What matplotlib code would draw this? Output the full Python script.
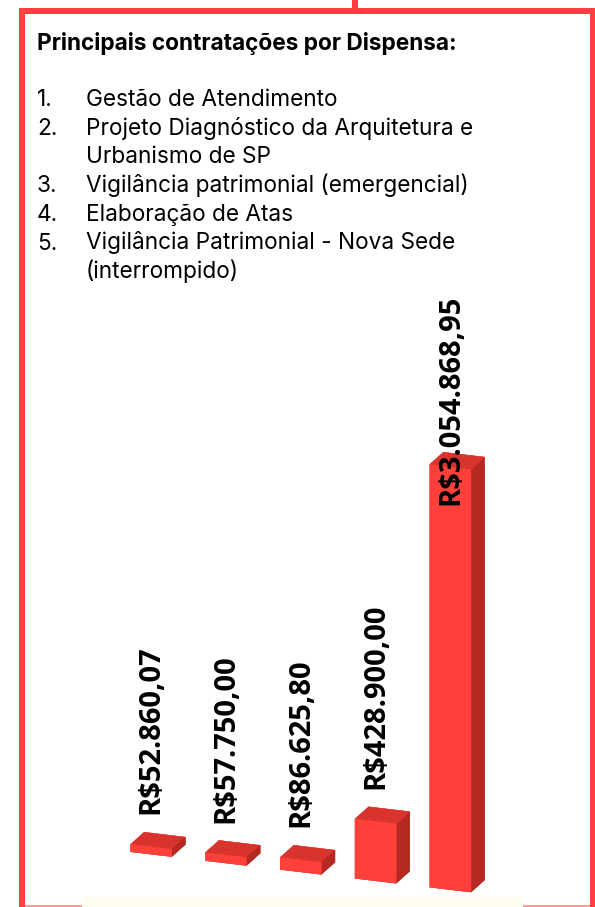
import matplotlib
matplotlib.use("Agg")
import matplotlib.pyplot as plt
from matplotlib.patches import Rectangle
from mpl_toolkits.mplot3d import proj3d

W, H, DPI = 595, 907, 100

title = "Principais contratações por Dispensa:"
items = [
    "Gestão de Atendimento",
    "Projeto Diagnóstico da Arquitetura e\nUrbanismo de SP",
    "Vigilância patrimonial (emergencial)",
    "Elaboração de Atas",
    "Vigilância Patrimonial - Nova Sede\n(interrompido)",
]
values = [52860.07, 57750.00, 86625.80, 428900.00, 3054868.95]

RED = "#FF4040"
FRONT = "#FF403A"
TOP = "#D9332E"
SIDE = "#B62822"


def brl(v):
    s = f"{v:,.2f}".replace(",", "X").replace(".", ",").replace("X", ".")
    return "R$" + s


def fx(x):
    return x / W


def fy(y):
    return 1 - y / H


fig = plt.figure(figsize=(W / DPI, H / DPI), dpi=DPI)
fig.patch.set_facecolor("white")


def box(x0, y0, x1, y1, color):
    fig.add_artist(Rectangle((fx(x0), fy(y1)), fx(x1 - x0), (y1 - y0) / H,
                             transform=fig.transFigure, color=color, lw=0))


# frame
box(19, 8, 596, 14, RED)
box(19, 8, 25, 907, RED)
box(590, 8, 596, 907, RED)
box(352, 0, 358, 14, RED)
box(82, 897, 523, 907, "#FFFCF0")
box(25, 905, 82, 907, "#FF9A94")
box(523, 905, 590, 907, "#FF9A94")

# text block
fig.text(fx(37), fy(50), title, fontsize=16.3, fontweight="bold",
         family="Inter", color="black", va="baseline")
line = 0
for i, it in enumerate(items):
    y = 106 + line * 28.7
    fig.text(fx(37), fy(y), f"{i + 1}.", fontsize=16.3, family="Inter",
             va="baseline")
    for k, part in enumerate(it.split("\n")):
        fig.text(fx(86), fy(y + k * 28.7), part, fontsize=16.3,
                 family="Inter", va="baseline")
    line += it.count("\n") + 1

# 3d bars, square axes centred on the bar group
side = 560
cx, cy = 300, 662
ax = fig.add_axes([fx(cx - side / 2), fy(cy + side / 2), side / W, side / H],
                  projection="3d")
ax.set_proj_type("ortho")
ax.view_init(elev=19, azim=-70)
n = len(values)
xs = list(range(n))
dx, dy = 0.55, 0.5
colors = [SIDE, TOP, FRONT, FRONT, FRONT, SIDE] * n
ax.bar3d(xs, [0] * n, [0] * n, dx, dy, values, color=colors, shade=False,
         linewidth=0.3, edgecolor=colors)
ax.set_xlim(0, n - 1 + dx)
ax.set_ylim(0, dy)
ax.set_zlim(0, max(values))
ax.set_box_aspect((350, 38.5, 432), zoom=1.0)
ax.set_axis_off()

# value labels: projected to the 2d plane so they stay upright
fig.canvas.draw()
M = ax.get_proj()
pad = 235000
label_cap = 2.78e6
for x, v in zip(xs, values):
    px, py, _ = proj3d.proj_transform(x + dx / 2, 0, min(v + pad, label_cap), M)
    ax.text2D(px, py, brl(v), transform=ax.transData, rotation=90,
              ha="center", va="bottom", fontsize=21, fontweight="bold",
              family="Open Sans", color="black")

fig.savefig("out.png", dpi=DPI)
